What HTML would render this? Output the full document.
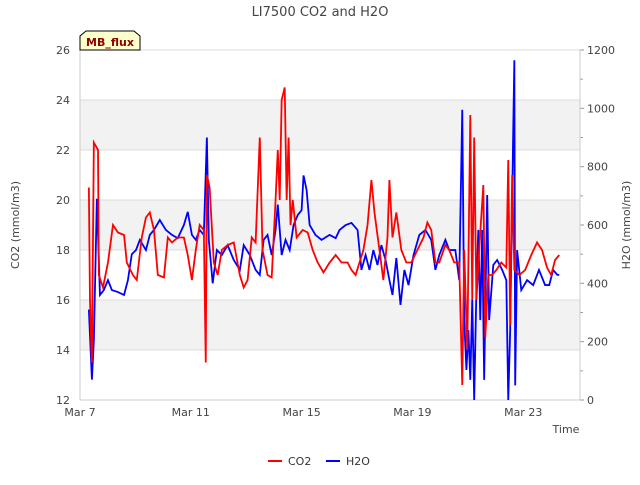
<!DOCTYPE html>
<html><head><meta charset="utf-8"><style>
body{margin:0;background:#fff;font-family:"Liberation Sans","DejaVu Sans",sans-serif}
svg text{font-family:"DejaVu Sans","Liberation Sans",sans-serif}
</style></head><body>
<svg id="chart" width="640" height="480" viewBox="0 0 640 480">
<text x="320" y="16" text-anchor="middle" font-size="13" fill="#444">LI7500 CO2 and H2O</text>
<g id="bands"></g><g id="grid"></g><g id="axes"></g><g id="series"></g>
<g>
<path d="M80,50 L80,36 L86,31 L134,31 L140,36 L140,50 Z" fill="#ffffcc" stroke="#000" stroke-width="1"/>
<text x="110" y="46" text-anchor="middle" font-size="11" font-weight="bold" fill="#8b0000">MB_flux</text></g>
<text x="19" y="225" transform="rotate(-90 19 225)" text-anchor="middle" font-size="11" fill="#444">CO2 (mmol/m3)</text>
<text x="630" y="225" transform="rotate(-90 630 225)" text-anchor="middle" font-size="11" fill="#444">H2O (mmol/m3)</text>
<text x="566" y="433" text-anchor="middle" font-size="11" fill="#444">Time</text>
<g><line x1="268" y1="461" x2="282" y2="461" stroke="red" stroke-width="2"/><text x="288" y="465" font-size="11" fill="#333">CO2</text></g>
<g><line x1="326" y1="461" x2="340" y2="461" stroke="blue" stroke-width="2"/><text x="346" y="465" font-size="11" fill="#333">H2O</text></g>
</svg>
<script>
const co2Days=[7.32,7.36,7.43,7.5,7.65,7.68,7.83,8.01,8.19,8.37,8.59,8.69,8.91,9.05,9.23,9.38,9.52,9.67,9.81,10.03,10.17,10.32,10.53,10.75,10.89,11.04,11.18,11.32,11.47,11.54,11.58,11.68,11.83,11.97,12.12,12.33,12.55,12.77,12.91,13.05,13.2,13.34,13.49,13.59,13.77,13.92,14.06,14.14,14.21,14.28,14.39,14.46,14.53,14.6,14.68,14.82,15.04,15.22,15.4,15.58,15.79,16.01,16.23,16.44,16.66,16.8,16.95,17.09,17.23,17.38,17.52,17.63,17.81,17.95,18.1,18.17,18.28,18.42,18.6,18.78,18.96,19.18,19.4,19.54,19.68,19.83,19.97,20.19,20.33,20.51,20.69,20.8,20.87,20.98,21.09,21.16,21.23,21.31,21.41,21.56,21.63,21.74,21.88,22.03,22.21,22.39,22.46,22.53,22.6,22.68,22.86,23.07,23.29,23.5,23.68,23.86,24.01,24.15,24.3];
const co2Vals=[20.5,16,13.5,22.3,22,17,16.5,17.5,19,18.7,18.6,17.5,17,16.8,18.5,19.3,19.5,18.8,17,16.9,18.5,18.3,18.5,18.5,17.8,16.8,18,19,18.8,13.5,21,20.5,17.5,17,18,18.2,18.3,17,16.5,16.8,18.5,18.3,22.5,18,17,16.9,20,22,20,24,24.5,20,22.5,19,20,18.5,18.8,18.7,18,17.5,17.1,17.5,17.8,17.5,17.5,17.2,17,17.5,18,19,20.8,19.5,18,16.8,18.5,20.8,18.5,19.5,18,17.5,17.5,18,18.5,19.1,18.8,17.5,17.5,18.2,18,17.5,17.5,12.6,18,14,23.4,16,22.5,16,18,20.6,14.5,17,17,17.2,17.5,17.3,21.6,15,21,17.2,17,17.2,17.8,18.3,18,17.3,17,17.6,17.8];
const h2oDays=[7.32,7.43,7.5,7.61,7.72,7.86,8.01,8.15,8.37,8.59,8.73,8.87,9.02,9.16,9.38,9.52,9.67,9.88,10.1,10.32,10.53,10.75,10.89,11.04,11.18,11.32,11.47,11.58,11.65,11.79,11.94,12.12,12.33,12.55,12.77,12.91,13.13,13.34,13.49,13.63,13.77,13.92,14.06,14.14,14.28,14.42,14.57,14.71,14.86,15,15.07,15.18,15.29,15.5,15.72,16.01,16.23,16.37,16.59,16.8,17.02,17.16,17.31,17.45,17.59,17.74,17.88,18.03,18.17,18.28,18.42,18.57,18.71,18.86,19.04,19.25,19.47,19.68,19.83,19.97,20.19,20.33,20.55,20.69,20.8,20.87,20.95,21.02,21.09,21.16,21.23,21.31,21.38,21.45,21.52,21.59,21.7,21.77,21.92,22.06,22.24,22.39,22.46,22.53,22.6,22.68,22.71,22.78,22.93,23.14,23.36,23.57,23.79,23.94,24.08,24.23,24.3];
const h2oVals=[310,70,206,690,360,377,411,377,370,360,411,500,514,549,514,566,583,617,583,566,555,600,645,566,549,583,566,900,549,400,514,497,531,480,446,531,497,446,429,549,566,497,583,670,497,549,514,600,634,651,770,720,600,566,549,566,555,583,600,607,583,446,497,446,514,463,531,480,411,360,487,326,446,394,497,566,583,549,446,497,549,514,514,411,995,274,103,240,69,343,0,377,583,274,583,69,703,274,463,480,446,411,0,240,686,1165,50,514,377,411,394,446,394,394,446,429,429];
const leftTicks=[12,14,16,18,20,22,24,26];
const rightTicks=[0,200,400,600,800,1000,1200];
const xTickDays=[7,11,15,19,23];
const xTickLabels=["Mar 7","Mar 11","Mar 15","Mar 19","Mar 23"];
const NS="http://www.w3.org/2000/svg";
const L=80,R=580,T=50,B=400;
const xs=d=>L+(d-7)*(R-L)/18.05;
const yl=v=>B-(v-12)*(B-T)/14;
const yr=v=>B-v*(B-T)/1200;
function mk(tag,attrs,parent){const e=document.createElementNS(NS,tag);for(const k in attrs)e.setAttribute(k,attrs[k]);document.getElementById(parent).appendChild(e);return e;}
for(let i=0;i<leftTicks.length-1;i++){if(i%2===1){const b=mk('rect',{x:L,y:yl(leftTicks[i+1]),width:R-L,height:yl(leftTicks[i])-yl(leftTicks[i+1]),fill:'#f2f2f2'},'bands');

}}
leftTicks.forEach(t=>{const g=mk('line',{x1:L,x2:R,y1:yl(t),y2:yl(t),stroke:'#dcdcdc'},'grid');


const tx=mk('text',{x:L-10,y:yl(t)+4,'text-anchor':'end','font-size':11,fill:'#444'},'axes');tx.textContent=t;

});
rightTicks.forEight=0;
rightTicks.forEach(t=>{const tx=mk('text',{x:R+7,y:yr(t)+4,'font-size':11,fill:'#444'},'axes');tx.textContent=t;


mk('line',{x1:R,x2:R+4,y1:yr(t),y2:yr(t),stroke:'#999'},'axes');});
for(let v=100;v<1200;v+=200){mk('line',{x1:R,x2:R+3,y1:yr(v),y2:yr(v),stroke:'#999'},'axes');}
mk('line',{x1:L,x2:L,y1:T,y2:B,stroke:'#ccc'},'axes');
mk('line',{x1:R,x2:R,y1:T,y2:B,stroke:'#ccc'},'axes');
mk('line',{x1:L,x2:R,y1:B,y2:B,stroke:'#ccc'},'axes');
xTickDays.forEach((d,i)=>{const tx=mk('text',{x:xs(d),y:B+16,'text-anchor':'middle','font-size':11,fill:'#444'},'axes');tx.textContent=xTickLabels[i];

});
const h=mk('polyline',{points:h2oDays.map((d,i)=>xs(d)+','+yr(h2oVals[i])).join(' '),fill:'none',stroke:'blue','stroke-width':1.8},'series');


const c=mk('polyline',{points:co2Days.map((d,i)=>xs(d)+','+yl(co2Vals[i])).join(' '),fill:'none',stroke:'red','stroke-width':1.8},'series');


</script>
</body></html>
